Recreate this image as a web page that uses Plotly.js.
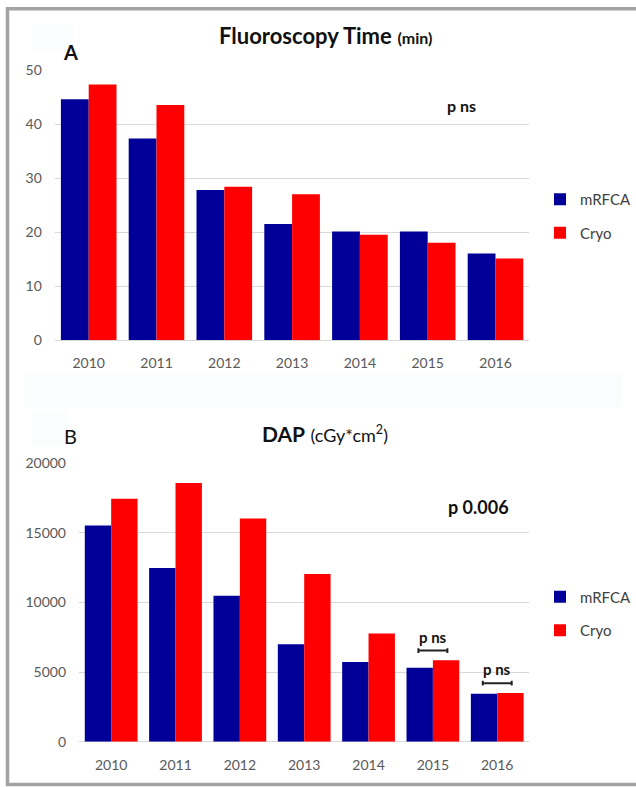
<!DOCTYPE html>
<html>
<head>
<meta charset="utf-8">
<script src="https://cdn.plot.ly/plotly-3.0.1.min.js"></script>
<style>html,body{margin:0;padding:0;background:#fff;}#chart{width:636px;height:787px;}</style>
</head>
<body>
<div id="chart"></div>
<script>
// ---- data ----
const years = ["2010", "2011", "2012", "2013", "2014", "2015", "2016"];
const fluoroMRFCA = [44.6, 37.3, 27.8, 21.5, 20.1, 20.1, 16.0];
const fluoroCryo  = [47.3, 43.5, 28.4, 27.0, 19.5, 18.0, 15.1];
const dapMRFCA = [15540, 12480, 10480, 7000, 5730, 5320, 3450];
const dapCryo  = [17460, 18590, 16040, 12040, 7770, 5850, 3500];
const nsYears = ["2015", "2016"];   // per-year "p ns" brackets in panel B

const BLUE = "#000099", RED = "#ff0000";
const FONT = "Lato, 'Open Sans', sans-serif";
const W = 636, H = 787;
const px = v => v / W;
const py = v => 1 - v / H;

const traces = [
  {type: "bar", name: "mRFCA", x: years, y: fluoroMRFCA, marker: {color: BLUE}, xaxis: "x", yaxis: "y", legend: "legend", legendgroup: "a1", hoverinfo: "x+y"},
  {type: "bar", name: "Cryo", x: years, y: fluoroCryo, marker: {color: RED}, xaxis: "x", yaxis: "y", legend: "legend", legendgroup: "a2", hoverinfo: "x+y"},
  {type: "bar", name: "mRFCA", x: years, y: dapMRFCA, marker: {color: BLUE}, xaxis: "x2", yaxis: "y2", legend: "legend2", legendgroup: "b1", hoverinfo: "x+y"},
  {type: "bar", name: "Cryo", x: years, y: dapCryo, marker: {color: RED}, xaxis: "x2", yaxis: "y2", legend: "legend2", legendgroup: "b2", hoverinfo: "x+y"}
];

const tickFont = {family: FONT, size: 14, color: "#595959"};
const xCommon = {type: "category", showgrid: false, showline: false, ticks: "", tickfont: tickFont, ticklabelstandoff: 13, fixedrange: true};
const yCommon = {showgrid: true, gridcolor: "#d9d9d9", gridwidth: 1, zeroline: true, zerolinecolor: "#d9d9d9", zerolinewidth: 1, showline: false, ticks: "", tickfont: tickFont, tickformat: "d", ticklabelstandoff: 12, fixedrange: true};

const shapes = [
  // faint background boxes of the original figure
  {type: "rect", xref: "paper", yref: "paper", x0: px(24), x1: px(621), y0: py(407), y1: py(373), fillcolor: "#fafdfe", line: {width: 0}, layer: "below"},
  {type: "rect", xref: "paper", yref: "paper", x0: px(32), x1: px(73), y0: py(50), y1: py(25), fillcolor: "#fafdfe", line: {width: 0}, layer: "below"},
  {type: "rect", xref: "paper", yref: "paper", x0: px(32), x1: px(67), y0: py(445), y1: py(412), fillcolor: "#fafdfe", line: {width: 0}, layer: "below"},
  // outer frame
  {type: "rect", xref: "paper", yref: "paper", x0: px(7.5), x1: px(660), y0: py(784.5), y1: py(8.8), fillcolor: "rgba(0,0,0,0)", line: {color: "#a3a3a3", width: 3.5}}
];

const annotations = [
  {xref: "paper", yref: "paper", x: px(325), y: py(36), xanchor: "center", yanchor: "middle", showarrow: false,
   text: "<b>Fluoroscopy Time</b> <b><span style='font-size:16px'>(min)</span></b>", font: {family: FONT, size: 22, color: "#111"}},
  {xref: "paper", yref: "paper", x: px(70), y: py(52), xanchor: "center", yanchor: "middle", showarrow: false,
   text: "<b>A</b>", font: {family: FONT, size: 20, color: "#111"}},
  {xref: "paper", yref: "paper", x: px(462), y: py(106), xanchor: "center", yanchor: "middle", showarrow: false,
   text: "<b>p ns</b>", font: {family: FONT, size: 16, color: "#111"}},
  {xref: "paper", yref: "paper", x: px(325), y: py(433), xanchor: "center", yanchor: "middle", showarrow: false,
   text: "<b>DAP</b> <span style='font-size:18px'>(cGy*cm<sup>2</sup>)</span>", font: {family: FONT, size: 21, color: "#111"}},
  {xref: "paper", yref: "paper", x: px(70), y: py(436), xanchor: "center", yanchor: "middle", showarrow: false,
   text: "B", font: {family: FONT, size: 20, color: "#111"}},
  {xref: "paper", yref: "paper", x: px(478), y: py(507), xanchor: "center", yanchor: "middle", showarrow: false,
   text: "<b>p 0.006</b>", font: {family: FONT, size: 18, color: "#111"}}
];

// per-year non-significance brackets, placed from the data
nsYears.forEach(yr => {
  const i = years.indexOf(yr);
  const top = Math.max(dapMRFCA[i], dapCryo[i]) + 700;
  const half = 0.225, tick = 170;
  shapes.push({type: "line", xref: "x2", yref: "y2", x0: i - half, x1: i + half, y0: top, y1: top, line: {color: "#222", width: 2}});
  shapes.push({type: "line", xref: "x2", yref: "y2", x0: i - half, x1: i - half, y0: top - tick, y1: top + tick, line: {color: "#222", width: 2}});
  shapes.push({type: "line", xref: "x2", yref: "y2", x0: i + half, x1: i + half, y0: top - tick, y1: top + tick, line: {color: "#222", width: 2}});
  annotations.push({xref: "x2", yref: "y2", x: i, y: top, xanchor: "center", yanchor: "bottom", yshift: 3, showarrow: false,
    text: "<b>p ns</b>", font: {family: FONT, size: 15, color: "#111"}});
});

const legendCommon = {font: {family: FONT, size: 15, color: "#404040"}, bgcolor: "rgba(0,0,0,0)", borderwidth: 0,
  traceorder: "grouped", tracegroupgap: 11, xanchor: "left", yanchor: "middle", itemclick: false, itemdoubleclick: false};

const layout = {
  width: W, height: H,
  margin: {l: 0, r: 0, t: 0, b: 0},
  paper_bgcolor: "#ffffff", plot_bgcolor: "rgba(0,0,0,0)",
  font: {family: FONT},
  showlegend: true,
  barmode: "group", bargap: 0.18, bargroupgap: 0,
  xaxis: Object.assign({}, xCommon, {domain: [px(54.8), px(529.4)], anchor: "y"}),
  yaxis: Object.assign({}, yCommon, {domain: [py(340), py(70)], range: [0, 50], dtick: 10, anchor: "x"}),
  xaxis2: Object.assign({}, xCommon, {domain: [px(79), px(529.4)], anchor: "y2"}),
  yaxis2: Object.assign({}, yCommon, {domain: [py(741.7), py(463.3)], range: [0, 20000], dtick: 5000, anchor: "x2"}),
  legend: Object.assign({}, legendCommon, {x: px(540), y: py(216)}),
  legend2: Object.assign({}, legendCommon, {x: px(540), y: py(613.5)}),
  shapes: shapes,
  annotations: annotations
};

Plotly.newPlot("chart", traces, layout, {displayModeBar: false, staticPlot: false});
</script>
</body>
</html>
